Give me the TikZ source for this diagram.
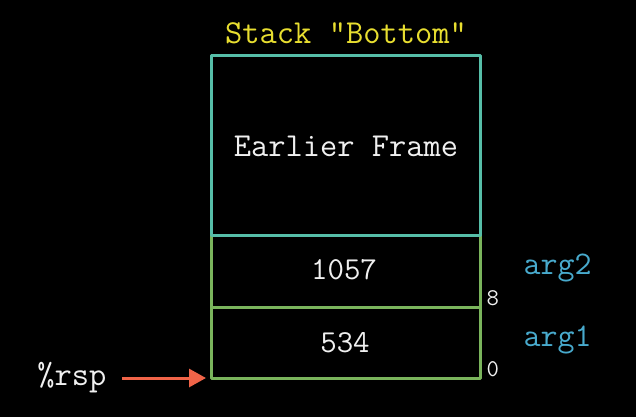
\documentclass[tikz,border=0pt]{standalone}
\usetikzlibrary{arrows.meta}
\definecolor{frameteal}{RGB}{86,190,168}
\definecolor{cellgreen}{RGB}{122,180,92}
\definecolor{titleyellow}{RGB}{232,222,48}
\definecolor{argblue}{RGB}{72,170,205}
\definecolor{ptrred}{RGB}{240,100,72}
\definecolor{txtwhite}{RGB}{240,240,240}
\tikzset{
  big/.style={font=\ttfamily\fontsize{32}{36}\selectfont, text=txtwhite},
  large/.style={font=\ttfamily\fontsize{33.5}{38}\selectfont, text=txtwhite},
  small/.style={font=\ttfamily\fontsize{24}{28}\selectfont, text=txtwhite},
  arglabel/.style={font=\ttfamily\fontsize{33}{38}\selectfont, text=argblue, anchor=west},
  tealline/.style={draw=frameteal, line width=3pt, line join=round},
  greenline/.style={draw=cellgreen, line width=3pt, line join=round},
  ptr/.style={draw=ptrred, line width=3pt, -{Triangle[length=17pt,width=18pt]}}
}
\begin{document}
\begin{tikzpicture}[x=1pt,y=-1pt]
  \fill[black] (0,0) rectangle (636,417);
  \useasboundingbox (0,0) rectangle (636,417);

  % stack cells
  \draw[greenline] (211,235) -- (211,378) -- (480,378) -- (480,235);
  \draw[greenline] (211,307) -- (480,307);
  \draw[tealline] (211,235) -- (211,56) -- (480,56) -- (480,235) -- cycle;

  % labels
  \node[large, text=titleyellow] (title) at (346,33) {Stack "Bottom"};
  \node[large] (earlier) at (346,146) {Earlier Frame};
  \node[big] (v2) at (344,270) {1057};
  \node[big] (v1) at (345,343) {534};
  \node[arglabel] (arg2) at (520,268) {arg2};
  \node[arglabel] (arg1) at (520,340) {arg1};
  \node[small, anchor=west] (off8) at (483,298) {8};
  \node[small, anchor=west] (off0) at (483,369) {0};

  % stack pointer
  \node[large, anchor=east] (rsp) at (110,378) {\%rsp};
  \coordinate (sp) at (206,378);
  \draw[ptr] (122,378) -- (sp);
\end{tikzpicture}
\end{document}
